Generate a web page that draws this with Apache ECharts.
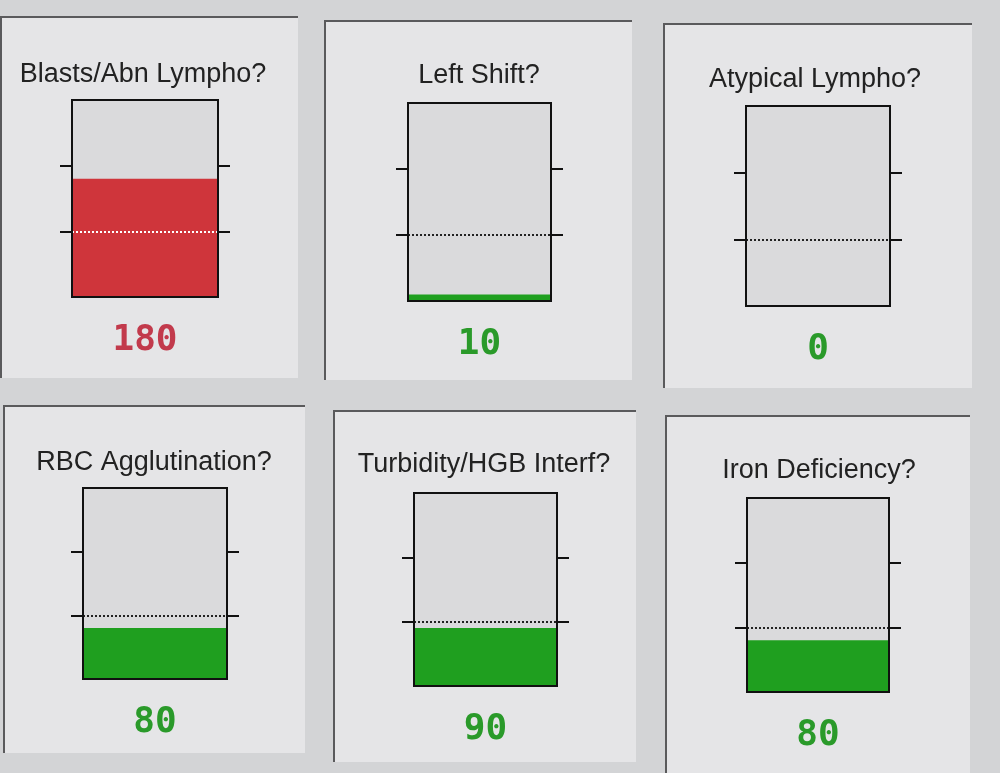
<!DOCTYPE html>
<html>
<head>
<meta charset="utf-8">
<title>Flag gauges</title>
<script src="https://cdn.jsdelivr.net/npm/echarts@6/dist/echarts.min.js"></script>
<style>
  html, body { margin: 0; padding: 0; background: #d3d4d6; }
  #chart { width: 1000px; height: 773px; }
</style>
</head>
<body>
<div id="chart"></div>
<script>
// Flag categories and their current scores
const flagNames = [
  'Blasts/Abn Lympho?', 'Left Shift?', 'Atypical Lympho?',
  'RBC Agglutination?', 'Turbidity/HGB Interf?', 'Iron Deficiency?'
];
const flagValues = [180, 10, 0, 80, 90, 80];
const thresholdValue = 100;   // dotted reference line
const tickValues = [100, 200];
const scaleMin = 0;
const scaleMax = 300;

// Panel and gauge box geometry (px)
const panels = [
  { x: 0,   y: 16,  w: 298, h: 362 },
  { x: 324, y: 20,  w: 308, h: 360 },
  { x: 663, y: 23,  w: 309, h: 365 },
  { x: 3,   y: 405, w: 302, h: 348 },
  { x: 333, y: 410, w: 303, h: 352 },
  { x: 665, y: 415, w: 305, h: 358 }
];
const boxes = [
  { left: 72,  top: 100, width: 146, height: 197 },
  { left: 408, top: 103, width: 143, height: 198 },
  { left: 746, top: 106, width: 144, height: 200 },
  { left: 83,  top: 488, width: 144, height: 191 },
  { left: 414, top: 493, width: 143, height: 193 },
  { left: 747, top: 498, width: 142, height: 194 }
];
const titlePos = [
  { x: 143, y: 61 }, { x: 479, y: 62 }, { x: 815, y: 66 },
  { x: 154, y: 449 }, { x: 484, y: 451 }, { x: 819, y: 457 }
];

const RED = '#cf353b', GREEN = '#1f9f1f';
const RED_TEXT = '#c23a4c', GREEN_TEXT = '#2a9a2a';

const chart = echarts.init(document.getElementById('chart'));

const graphic = [];
panels.forEach(p => {
  graphic.push({
    type: 'rect', z: -10, silent: true,
    shape: { x: p.x, y: p.y, width: p.w, height: p.h },
    style: { fill: '#e5e5e7' }
  });
  graphic.push({
    type: 'polyline', z: -9, silent: true,
    shape: { points: [[p.x + 1, p.y + p.h], [p.x + 1, p.y + 1], [p.x + p.w, p.y + 1]] },
    style: { stroke: '#5a5a5c', lineWidth: 2, fill: null }
  });
});

const grid = [], xAxis = [], yAxis = [], series = [], title = [];
flagValues.forEach((v, i) => {
  const over = v > thresholdValue;
  grid.push(Object.assign({
    show: true, backgroundColor: '#dadadc', borderColor: '#111', borderWidth: 2, containLabel: false
  }, boxes[i]));
  xAxis.push({
    type: 'category', gridIndex: i, data: [flagNames[i]], z: 10,
    axisLine: { show: true, lineStyle: { color: '#111', width: 2 } },
    axisTick: { show: false }, axisLabel: { show: false }
  });
  ['left', 'right'].forEach(pos => {
    yAxis.push({
      type: 'value', gridIndex: i, position: pos, min: scaleMin, max: scaleMax, z: 10,
      axisLine: { show: true, lineStyle: { color: '#111', width: 2 } },
      axisTick: { show: true, inside: false, length: 12, customValues: tickValues,
                  lineStyle: { color: '#111', width: 2 } },
      axisLabel: { show: false }, splitLine: { show: false }
    });
  });
  series.push({
    type: 'bar', xAxisIndex: i, yAxisIndex: i * 2, z: 2,
    barWidth: '100%', data: [v],
    itemStyle: { color: over ? RED : GREEN },
    label: {
      show: true, position: 'bottom', distance: 26,
      formatter: '{c}',
      fontFamily: 'DejaVu Sans Mono', fontWeight: 'bold', fontSize: 36,
      color: over ? RED_TEXT : GREEN_TEXT
    },
    markLine: {
      silent: true, symbol: 'none', z: 5,
      label: { show: false },
      lineStyle: { type: [2, 2], width: 2, color: over ? '#ffffff' : '#222' },
      data: [{ yAxis: thresholdValue }]
    }
  });
  title.push({
    text: flagNames[i], left: titlePos[i].x, top: titlePos[i].y, textAlign: 'center', padding: 0,
    textStyle: { fontFamily: 'Liberation Sans', fontWeight: 'normal', fontSize: 27, color: '#222' }
  });
});

chart.setOption({
  backgroundColor: '#d3d4d6',
  animation: false,
  graphic, title, grid, xAxis, yAxis, series
});
</script>
</body>
</html>
